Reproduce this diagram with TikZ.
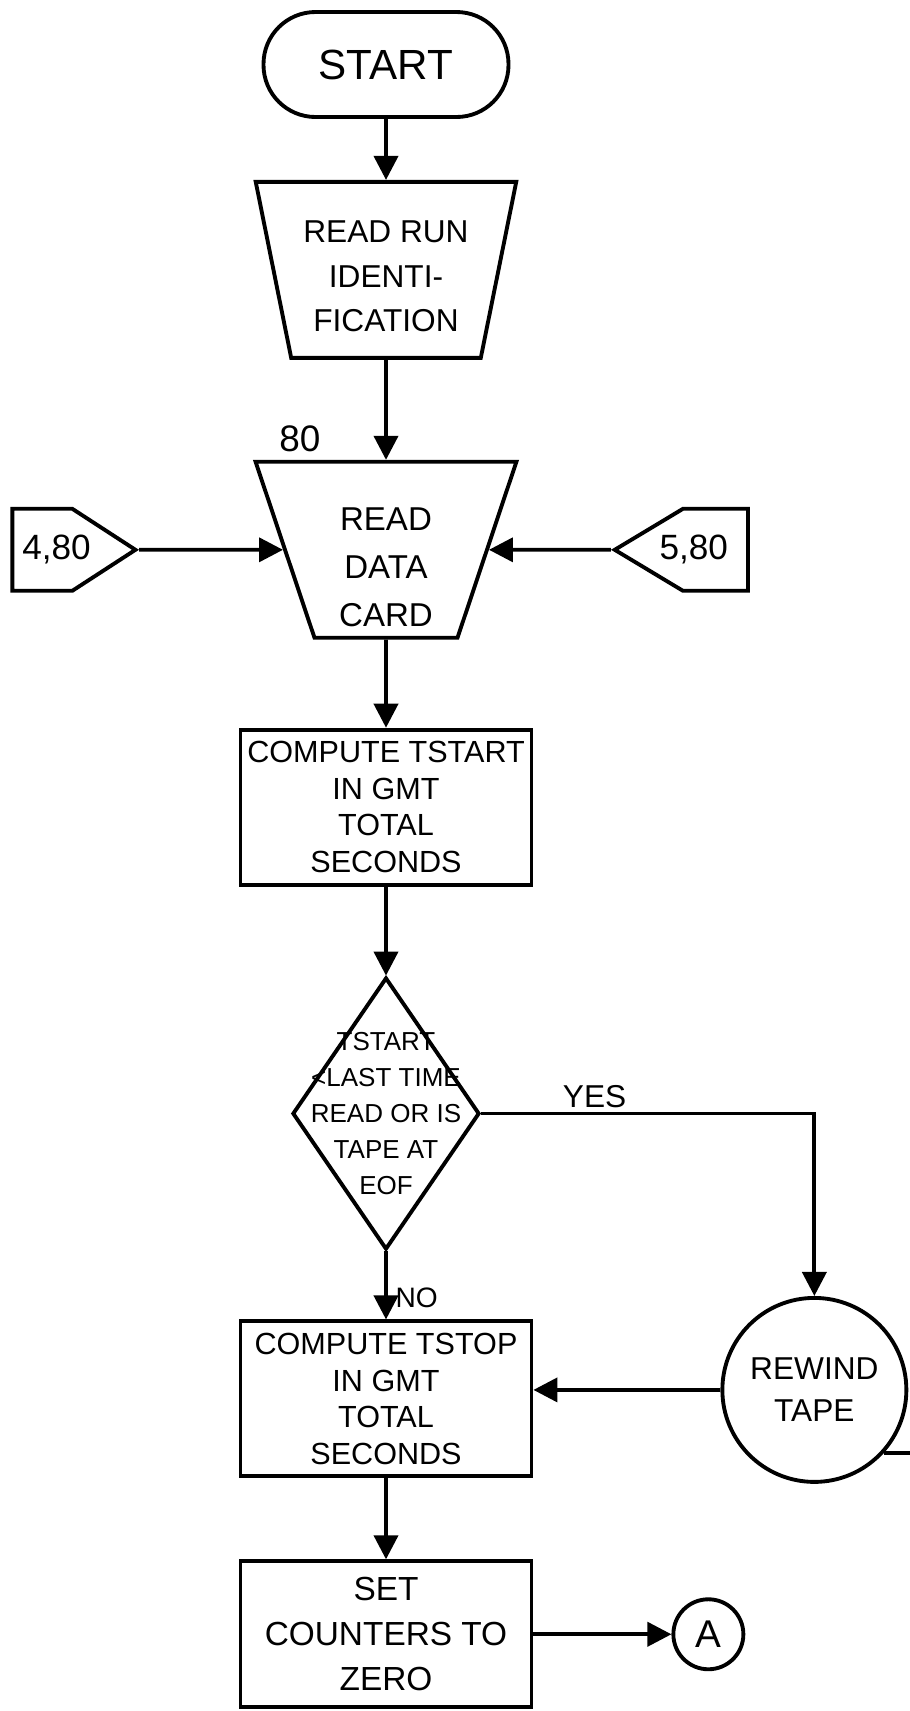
\documentclass[tikz,border=0pt]{standalone}
\usepackage{fontspec}
\setmainfont{Liberation Sans}
\usetikzlibrary{arrows.meta,positioning,calc,shapes.geometric,shapes.symbols}

\begin{document}
\begin{tikzpicture}[
  font=\fontsize{9}{12}\selectfont,
  >={Triangle[length=2.4mm,width=2.4mm]},
  line width=1.1pt,
  term/.style={
    draw,
    rounded corners=5.2mm,
    minimum width=24.5mm,
    minimum height=10.5mm,
    font=\fontsize{12}{14}\selectfont
  },
  io/.style={
    draw,
    trapezium,
    trapezium stretches=true,
    shape border rotate=180,
    trapezium left angle=76,
    trapezium right angle=76,
    minimum width=26.2mm,
    minimum height=17.6mm,
    inner xsep=0pt,
    inner ysep=0pt,
    align=center
  },
  proc/.style={
    draw,
    minimum width=29.1mm,
    minimum height=15.5mm,
    inner sep=1pt,
    align=center,
    font=\fontsize{8.7}{10.4}\selectfont
  },
  decision/.style={
    draw,
    diamond,
    minimum width=18.7mm,
    minimum height=27.2mm,
    inner sep=0pt
  },
  offpage/.style={
    draw,
    signal,
    signal pointer angle=66,
    minimum height=8.2mm,
    inner xsep=0.4mm,
    font=\fontsize{10}{12}\selectfont
  },
  tapebox/.style={
    draw,
    circle,
    minimum size=18.4mm,
    inner sep=0pt,
    align=center
  },
  connA/.style={
    draw,
    circle,
    minimum size=7mm,
    inner sep=0pt,
    font=\fontsize{11}{13}\selectfont
  },
  flow/.style={->}
]
\useasboundingbox (0,0) rectangle (91mm,-171.1mm);

% main column
\node[term] (start) at (38.6mm,-6.45mm) {START};

\node[io,below=6.1mm of start,font=\fontsize{9}{12.6}\selectfont] (ident) {
  \rule{0pt}{3.5mm}READ RUN\\IDENTI-\\FICATION
};

\node[io,below=10mm of ident,font=\fontsize{9.4}{13.7}\selectfont,
  label={[name=lab80,xshift=-8.6mm,inner sep=0.6mm,font=\fontsize{10.5}{12}\selectfont]above:80}] (card) {
  \rule{0pt}{5.8mm}READ\\DATA\\CARD
};

\node[offpage,signal to=east,left=14.4mm of card] (in480) {\makebox[5.2mm][l]{\hspace{0.6mm}4,80}};
\node[offpage,signal to=west,signal pointer angle=62,right=12.2mm of card] (in580) {\makebox[5.7mm][r]{5,80\hspace{1.6mm}}};

\node[proc,below=8.8mm of card] (tstart) {
  COMPUTE TSTART\\IN GMT\\TOTAL\\SECONDS
};

\node[decision,below=8.9mm of tstart,
  label={[name=testtxt,align=center,font=\fontsize{7.4}{10.2}\selectfont]center:TSTART\\<LAST TIME\\READ OR IS\\TAPE AT\\EOF}] (test) {};

\node[proc,below=6.8mm of test] (tstop) {
  COMPUTE TSTOP\\IN GMT\\TOTAL\\SECONDS
};

\node[proc,below=8.1mm of tstop,minimum height=14.6mm,
  font=\fontsize{9.5}{12.8}\selectfont] (setz) {
  SET\\COUNTERS TO\\ZERO
};

% side branch
\node[tapebox,right=18.7mm of tstop,yshift=0.9mm] (tape) {REWIND\\TAPE};
\draw (tape.-42) -- ++(3mm,0);

\node[connA,right=13.8mm of setz] (endA) {A};

\draw[flow] (start) -- (ident);
\draw[flow] (ident) -- (card);
\draw[flow] (in480) -- (card);
\draw[flow] (in580) -- (card);
\draw[flow] (card) -- (tstart);
\draw[flow] (tstart) -- (test);
\draw[flow] (test) -- node[right,pos=0.68,inner sep=2.2pt,font=\fontsize{8}{9}\selectfont] (no) {NO} (tstop);
\draw[flow] (test.east) -| node[above,pos=0.17,inner sep=1pt] (yes) {YES} (tape.north);
\draw[flow] (tape) -- (tape -| tstop.east);
\draw[flow] (tstop) -- (setz);
\draw[flow] (setz) -- (endA);

\end{tikzpicture}
\end{document}
